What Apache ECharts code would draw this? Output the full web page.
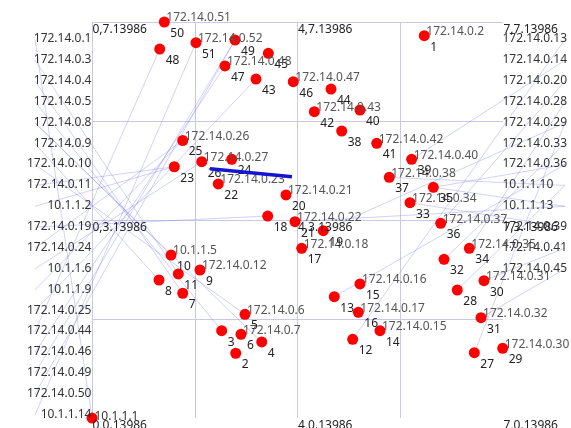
<!DOCTYPE html>
<html>
<head>
<meta charset="utf-8">
<script src="https://cdn.jsdelivr.net/npm/echarts@6/dist/echarts.min.js"></script>
<style>
  html, body { margin: 0; padding: 0; background: #fff; }
  #chart { width: 571px; height: 428px; }
</style>
</head>
<body>
<div id="chart"></div>
<script>
// Host nodes 1..51: position on the plane and the address shown next to the node ('' = no address label)
const hostIds = ['1','2','3','4','5','6','7','8','9','10','11','12','13','14','15','16','17','18','19','20',
  '21','22','23','24','25','26','27','28','29','30','31','32','33','34','35','36','37','38','39','40',
  '41','42','43','44','45','46','47','48','49','50','51'];
const hostX = [323.4,139.9,126.2,165.2,148.9,145.0,88.3,65.2,105.1,76.9,84.0,253.7,235.8,280.3,260.8,259.2,204.1,171.0,225.1,188.8,
  197.6,122.9,80.1,136.0,88.3,106.8,372.1,355.5,399.7,381.5,378.6,342.6,309.5,367.2,332.2,339.4,289.3,243.0,311.1,260.8,
  277.1,216.4,159.6,232.6,171.6,195.9,129.4,65.9,139.2,70.4,101.2];
const hostY = [386.2,65.4,88.2,76.8,104.7,84.5,126.0,139.4,149.5,164.6,145.5,79.5,122.5,88.2,135.4,106.8,171.4,204.0,189.2,225.3,
  198.3,236.4,253.8,261.3,280.3,258.9,66.0,129.3,70.4,138.7,101.3,160.3,217.5,171.4,233.0,196.7,243.1,289.9,261.3,311.1,
  277.5,309.4,342.4,332.3,368.4,339.7,355.6,372.7,381.8,400.0,379.1];
const hostIp = ['172.14.0.2','','','','172.14.0.6','172.14.0.7','','','172.14.0.12','10.1.1.5','','','','172.14.0.15','172.14.0.16','172.14.0.17','172.14.0.18','','','172.14.0.21',
  '172.14.0.22','172.14.0.23','','','172.14.0.26','172.14.0.27','','','172.14.0.30','172.14.0.31','172.14.0.32','','172.14.0.34','172.14.0.35','','172.14.0.37','172.14.0.38','','172.14.0.40','',
  '172.14.0.42','172.14.0.43','','','','172.14.0.47','172.14.0.48','','','172.14.0.51','172.14.0.52'];

// Gateway node in the lower-left corner
const gatewayName = '10.1.1.1';
const gatewayPos = [0, 0];

// Peer columns on both sides of the plane
const leftPeers = ['172.14.0.1','172.14.0.3','172.14.0.4','172.14.0.5','172.14.0.8','172.14.0.9','172.14.0.10','172.14.0.11',
  '10.1.1.2','172.14.0.19','172.14.0.24','10.1.1.6','10.1.1.9','172.14.0.25','172.14.0.44','172.14.0.46','172.14.0.49',
  '172.14.0.50','10.1.1.14'];
const leftPeerY = [382.5,361.4,340.3,319.2,298.2,277.1,256.0,234.9,213.8,192.8,171.7,150.6,129.5,108.4,87.3,66.3,45.2,24.1,3.0];
const leftPeerX = -55.5;
const rightPeers = ['172.14.0.13','172.14.0.14','172.14.0.20','172.14.0.28','172.14.0.29','172.14.0.33','172.14.0.36',
  '10.1.1.10','10.1.1.13','172.14.0.39','172.14.0.41','172.14.0.45'];
const rightPeerY = [382.5,361.4,340.3,319.2,298.2,277.1,256.0,234.9,213.8,192.8,171.7,150.6];
const rightPeerX = 460.3;

// Reference marks on the plane
const gridMarks = ['0,7.13986','4,7.13986','7,7.13986','0,3.13986','4,3.13986','7,3.13986','0,0.13986','4,0.13986','7,0.13986'];
const gridMarkX = [0,200,400,0,200,400,0,200,400];
const gridMarkY = [400,400,400,200,200,200,0,0,0];

// Connections (source, target)
const connections = [
  ['172.14.0.1','10.1.1.1'], ['172.14.0.3','11'], ['172.14.0.4','7'], ['172.14.0.5','3'],
  ['172.14.0.8','10'], ['172.14.0.8','4'], ['172.14.0.9','8'], ['172.14.0.10','5'],
  ['172.14.0.11','23'], ['10.1.1.2','23'], ['172.14.0.19','18'], ['172.14.0.24','25'],
  ['10.1.1.6','26'], ['10.1.1.9','25'], ['172.14.0.25','43'], ['172.14.0.44','48'],
  ['172.14.0.46','47'], ['172.14.0.49','49'], ['172.14.0.50','49'], ['10.1.1.14','51'],
  ['12','172.14.0.13'], ['39','172.14.0.14'], ['36','172.14.0.20'], ['34','172.14.0.28'],
  ['27','172.14.0.29'], ['19','172.14.0.29'], ['32','172.14.0.33'], ['13','172.14.0.36'],
  ['35','172.14.0.36'], ['37','10.1.1.10'], ['28','10.1.1.10'], ['35','10.1.1.13'],
  ['21','10.1.1.13'], ['33','172.14.0.39'], ['30','172.14.0.41'], ['31','172.14.0.45']
];

// Highlighted path segment
const pathX = [114.8, 194.6];
const pathY = [251.8, 243.7];

const FONT = '"Noto Sans", sans-serif';
const FS = 12;

const nodes = [];
hostIds.forEach((id, i) => {
  const ip = hostIp[i];
  nodes.push({
    name: id,
    value: [hostX[i], hostY[i]],
    symbolSize: 11,
    itemStyle: { color: '#ff0000' },
    label: {
      show: true,
      position: [7.5, -5.5],
      align: 'left',
      verticalAlign: 'top',
      formatter: '{ip|' + (ip || ' ') + '}\n{num|' + id + '}',
      rich: {
        ip: { color: '#555', fontSize: FS, fontFamily: FONT, lineHeight: 14 },
        num: { color: '#222', fontSize: FS, fontFamily: FONT, lineHeight: 17, padding: [0, 0, 0, 4] }
      }
    }
  });
});
nodes.push({
  name: gatewayName,
  value: gatewayPos,
  symbolSize: 11,
  itemStyle: { color: '#ff0000' },
  label: {
    show: true, position: [8, -3], align: 'left', verticalAlign: 'top',
    formatter: gatewayName, color: '#333', fontSize: FS, fontFamily: FONT, lineHeight: 14
  }
});
leftPeers.forEach((name, i) => {
  nodes.push({
    name: name,
    value: [leftPeerX, leftPeerY[i]],
    symbolSize: 1,
    itemStyle: { color: 'rgba(0,0,0,0)' },
    label: {
      show: true, position: [57, 0], align: 'right', verticalAlign: 'middle',
      formatter: name, color: '#333', fontSize: FS, fontFamily: FONT
    }
  });
});
rightPeers.forEach((name, i) => {
  nodes.push({
    name: name,
    value: [rightPeerX, rightPeerY[i]],
    symbolSize: 1,
    itemStyle: { color: 'rgba(0,0,0,0)' },
    label: {
      show: true, position: [-62, 0], align: 'left', verticalAlign: 'middle',
      formatter: name, color: '#333', fontSize: FS, fontFamily: FONT
    }
  });
});
gridMarks.forEach((name, i) => {
  nodes.push({
    name: name,
    value: [gridMarkX[i], gridMarkY[i]],
    symbolSize: 1,
    itemStyle: { color: 'rgba(0,0,0,0)' },
    label: {
      show: true, position: [1, 1], align: 'left', verticalAlign: 'top',
      formatter: name, color: '#222', fontSize: FS, fontFamily: FONT, lineHeight: 14
    }
  });
});

const links = connections.map(c => ({ source: c[0], target: c[1] }));

const chart = echarts.init(document.getElementById('chart'), null, { renderer: 'canvas' });
chart.setOption({
  animation: false,
  backgroundColor: '#fff',
  grid: { left: 92, right: 68, top: 22, bottom: 10, containLabel: false },
  xAxis: {
    type: 'value', min: 0, max: 400, interval: 100,
    axisLine: { show: false }, axisTick: { show: false }, axisLabel: { show: false },
    splitLine: { show: true, showMaxLine: false, lineStyle: { color: '#c9c9e6', width: 1 } }
  },
  yAxis: {
    type: 'value', min: 0, max: 400, interval: 100,
    axisLine: { show: false }, axisTick: { show: false }, axisLabel: { show: false },
    splitLine: { show: true, showMinLine: false, lineStyle: { color: '#c9c9e6', width: 1 } }
  },
  series: [
    {
      type: 'graph',
      coordinateSystem: 'cartesian2d',
      silent: true,
      data: nodes,
      links: links,
      lineStyle: { color: '#7070f0', opacity: 0.32, width: 1, curveness: 0 },
      z: 2
    },
    {
      type: 'line',
      silent: true,
      data: pathX.map((x, i) => [x, pathY[i]]),
      symbol: 'none',
      lineStyle: { color: '#1414d2', width: 3.5 },
      z: 3
    }
  ]
});
</script>
</body>
</html>
